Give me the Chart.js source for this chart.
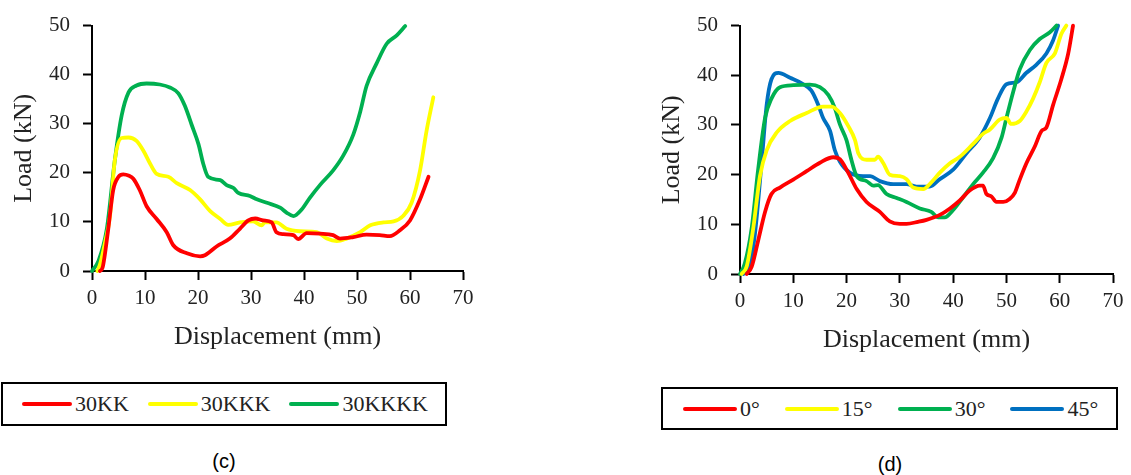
<!DOCTYPE html>
<html>
<head>
<meta charset="utf-8">
<script src="https://cdn.jsdelivr.net/npm/chart.js@4.4.1/dist/chart.umd.min.js"></script>
<style>
  html, body { margin: 0; padding: 0; background: #fff; }
  body { width: 1131px; height: 475px; position: relative; overflow: hidden; }
  .plot { position: absolute; top: 0; height: 360px; }
  .legend {
    position: absolute; box-sizing: border-box; border: 2px solid #000;
    display: flex; align-items: center;
    font-family: "Liberation Serif", "Times New Roman", serif; font-size: 22px; color: #222;
  }
  .legend .item { display: flex; align-items: center; }
  .legend .swatch { height: 4px; border-radius: 2px; margin-right: 3px; }
  .caption {
    position: absolute; font-family: "Liberation Sans", Arial, sans-serif; font-size: 20px;
    color: #000; transform: translate(-50%, -50%);
  }
</style>
</head>
<body>
<div class="plot" style="left:0;width:480px"><canvas id="chartC"></canvas></div>
<div class="plot" style="left:645px;width:486px"><canvas id="chartD"></canvas></div>
<div id="legendC" class="legend" style="left:1px;top:382px;width:446px;height:44px;padding-left:19px"></div>
<div id="legendD" class="legend" style="left:661px;top:387px;width:457px;height:43px;padding-left:20px"></div>
<div class="caption" style="left:224px;top:461px">(c)</div>
<div class="caption" style="left:890px;top:464px">(d)</div>

<script>
// tick values shared by both panels
const xTicks = [0, 10, 20, 30, 40, 50, 60, 70];
const yTicks = [0, 10, 20, 30, 40, 50];

// panel (c): [displacement mm, load kN]
const labelsC = ['30KK', '30KKK', '30KKKK'];
const load30KK = [
  [1.5, 0], [2, 0.7], [3, 8], [4, 16.5], [5, 19.2], [5.9, 19.7], [7, 19.4], [7.8, 18.8], [9, 16.5],
  [10.3, 13.2], [12.2, 10.6], [14.1, 7.9], [15.3, 5.3], [17.9, 3.6], [20.4, 3.0], [21.3, 3.2],
  [23.5, 5], [26, 6.6], [27.9, 8.6], [29.5, 10.3], [30.8, 10.7], [32.3, 10.3], [33.9, 9.9],
  [34.8, 7.9], [36.1, 7.5], [38, 7.3], [38.9, 6.5], [40.5, 7.7], [43, 7.6], [45.5, 7.3],
  [46.8, 6.6], [49.3, 6.9], [51.8, 7.4], [54.3, 7.3], [56.2, 7.1], [58.1, 8.3], [60, 10.3],
  [61.9, 14.6], [63.5, 19.2]
];
const load30KKK = [
  [1, 0], [1.5, 1.3], [2.5, 6], [3.4, 11.2], [4.3, 22.5], [5.6, 27.1], [6.9, 27.2], [8.4, 26.5],
  [9.7, 24.5], [11, 21.8], [12.2, 19.8], [14.4, 19.2], [16, 17.9], [18.5, 16.5], [20.4, 14.6],
  [22.3, 12.2], [24.2, 10.6], [25.7, 9.4], [27.9, 9.9], [30.4, 10.1], [32, 9.3], [32.6, 9.9],
  [34.8, 9.9], [36.7, 8.6], [39.2, 8.1], [42.4, 7.9], [44.3, 6.6], [46.2, 6.1], [48, 6.6],
  [50.6, 7.9], [52.5, 9.3], [55, 9.9], [56.9, 10.1], [58.7, 11.2], [60.3, 13.9], [61.9, 20.5],
  [63.1, 28.4], [64.4, 35.4]
];
const load30KKKK = [
  [0, 0], [1.2, 2], [2.8, 8.6], [4.3, 22.5], [5.6, 31.7], [6.9, 36.4], [8.4, 37.8], [10.3, 38.2],
  [12.8, 38], [14.7, 37.4], [16.3, 36.2], [17.5, 33.7], [18.8, 29.8], [20.1, 25.8], [21, 21.8],
  [21.9, 19.2], [24.2, 18.5], [25.4, 17.5], [26.7, 16.9], [27.6, 15.9], [29.8, 15.3], [31.1, 14.6],
  [33, 13.9], [35.5, 12.9], [36.7, 11.9], [38, 11.2], [39.6, 12.6], [41.1, 14.9], [43, 17.5],
  [45.5, 20.5], [47.4, 23.5], [49.3, 27.8], [50.6, 32.4], [51.8, 37.7], [53.7, 42.3], [55.6, 46.3],
  [57.5, 48], [59.1, 49.9]
];

// panel (d): [displacement mm, load kN]
const labelsD = ['0°', '15°', '30°', '45°'];
const load0 = [
  [1.25, 0], [2.2, 1.5], [3.4, 6.7], [4.7, 12.5], [5.9, 16.1], [7.5, 17.4], [10, 19], [12.5, 20.7],
  [15, 22.4], [17.5, 23.5], [18.75, 23.1], [20.3, 20.4], [21.9, 17.1], [23.75, 14.5], [26.25, 12.5],
  [28.1, 10.6], [30, 10.1], [31.25, 10.1], [33.4, 10.5], [35, 10.9], [37.5, 11.9], [39.4, 13.2],
  [41.25, 14.8], [43.1, 16.8], [45, 17.8], [45.6, 17.8], [46.25, 16.1], [47.2, 15.6], [48.1, 14.5],
  [49.4, 14.5], [50.6, 15.1], [51.6, 16.4], [52.5, 19], [53.75, 22.3], [55.3, 25.6], [56.6, 28.8],
  [57.5, 29.5], [58.75, 34], [60.3, 39.2], [61.6, 44.4], [62.5, 50]
];
const load15 = [
  [0.3, 0], [1.25, 1.5], [2.5, 9.3], [3.75, 19.7], [5, 24.9], [6.9, 28.5], [9.4, 30.8], [12.5, 32.4],
  [15.6, 33.7], [17.2, 33.7], [18.75, 32.4], [20.3, 29.8], [21.6, 26.9], [22.2, 24.3], [23.75, 23],
  [25.3, 23], [25.9, 23.6], [26.9, 22.3], [28.1, 20], [30, 19.7], [31.25, 19.1], [32.5, 17.4],
  [34.4, 17.1], [35.6, 18.1], [37.5, 20.4], [39.4, 22.3], [41.25, 23.6], [43.75, 26.2], [45.6, 28.2],
  [46.9, 29.1], [48.75, 31.1], [50, 31.4], [50.9, 30.2], [52.5, 30.8], [53.75, 32.7], [55, 35.3],
  [56.25, 38.6], [57.5, 42.5], [59.1, 44.4], [60.3, 48.3], [61.25, 50]
];
const load30 = [
  [0, 0], [0.9, 2.1], [2.2, 9.3], [3.4, 21], [4.7, 31.4], [5.9, 35.3], [7.5, 37.6], [10, 38],
  [13.1, 38.1], [15, 37.6], [16.6, 36], [17.8, 33.4], [18.75, 30.1], [20, 26.9], [20.9, 23],
  [21.9, 19.7], [23.75, 18.7], [25, 17.8], [25.9, 17.9], [27.5, 16.1], [29.4, 15.3], [31.25, 14.5],
  [33.75, 13.2], [35.9, 12.5], [37.2, 11.4], [38.4, 11.4], [40, 12.9], [41.9, 15.5], [43.75, 18.1],
  [45.6, 20.4], [47.5, 23.3], [49.1, 27.5], [50, 31.4], [51.25, 36.6], [52.5, 41.2], [54.4, 45.1],
  [56.25, 47.3], [58.1, 48.6], [59.4, 50]
];
const load45 = [
  [0.6, 0], [1.6, 0.8], [2.8, 8], [4.1, 23], [5, 34], [5.9, 39.2], [7.2, 40.5], [9.4, 39.5],
  [11.9, 38.2], [13.4, 36.9], [14.7, 34], [15.6, 31.4], [16.9, 28.8], [17.8, 24.9], [18.75, 22.6],
  [20.6, 20.4], [23.1, 19.7], [24.4, 19.7], [26.25, 18.7], [28.75, 18.1], [31.25, 18.1], [33.1, 17.6],
  [35.6, 17.6], [37.5, 19.1], [40, 21], [42.5, 24.3], [45, 27.5], [46.9, 31.4], [48.4, 35.3],
  [50, 38.2], [51.9, 38.6], [53.75, 40.5], [55.6, 42.1], [57.5, 44.4], [58.75, 47], [59.7, 50]
];

const RED = '#FF0000', YELLOW = '#FFFF00', GREEN = '#00B050', BLUE = '#0070C0';

function toPoints(pairs) {
  return pairs.map(p => ({ x: p[0], y: p[1] }));
}

function makeDataset(label, pairs, color) {
  return {
    label: label,
    data: toPoints(pairs),
    borderColor: color,
    backgroundColor: color,
    borderWidth: 3.8,
    pointRadius: 0,
    cubicInterpolationMode: 'monotone',
    borderCapStyle: 'round',
    borderJoinStyle: 'round',
    clip: 4
  };
}

const serif = "'Liberation Serif', 'Times New Roman', serif";

// build one panel; yWidth/xHeight pin the plot area to the reference
function buildChart(canvasId, datasets, geo) {
  const axisCommon = {
    type: 'linear',
    border: { display: true, color: '#000', width: 2 },
    grid: { drawOnChartArea: false, drawTicks: true, tickLength: 9, tickWidth: 2, tickColor: '#000' }
  };
  return new Chart(document.getElementById(canvasId), {
    type: 'line',
    data: { datasets: datasets },
    options: {
      responsive: true,
      maintainAspectRatio: false,
      animation: false,
      events: [],
      layout: { padding: { left: 0, top: 18, right: geo.right, bottom: 0 } },
      plugins: { legend: { display: false }, tooltip: { enabled: false } },
      scales: {
        x: Object.assign({}, axisCommon, {
          min: 0, max: 70,
          afterBuildTicks: s => { s.ticks = xTicks.map(v => ({ value: v })); },
          ticks: { padding: 6, color: '#222', font: { family: serif, size: 21 } },
          title: { display: true, text: 'Displacement (mm)', color: '#222',
                   font: { family: serif, size: 26 }, padding: { top: 0, bottom: geo.xTitlePad } },
          afterFit: s => { s.height = geo.xHeight; }
        }),
        y: Object.assign({}, axisCommon, {
          min: 0, max: 50,
          afterBuildTicks: s => { s.ticks = yTicks.map(v => ({ value: v })); },
          ticks: { padding: 13, color: '#222', font: { family: serif, size: 21 } },
          title: { display: true, text: 'Load (kN)', color: '#222',
                   font: { family: serif, size: 26 }, padding: { top: geo.yTitlePad, bottom: 0 } },
          afterFit: s => { s.width = geo.yWidth; }
        })
      }
    }
  });
}

function buildLegend(el, labels, colors, swatchWidth, gap) {
  labels.forEach((lab, i) => {
    const item = document.createElement('div');
    item.className = 'item';
    if (i > 0) item.style.marginLeft = gap + 'px';
    const sw = document.createElement('span');
    sw.className = 'swatch';
    sw.style.width = swatchWidth + 'px';
    sw.style.background = colors[i];
    const tx = document.createElement('span');
    tx.textContent = lab;
    item.appendChild(sw);
    item.appendChild(tx);
    el.appendChild(item);
  });
}

const colorsC = [RED, YELLOW, GREEN];
const seriesC = [load30KK, load30KKK, load30KKKK];
buildChart('chartC', labelsC.map((l, i) => makeDataset(l, seriesC[i], colorsC[i])),
  { right: 17, xHeight: 89, yWidth: 92, xTitlePad: 7, yTitlePad: 9 });

const colorsD = [RED, YELLOW, GREEN, BLUE];
const seriesD = [load0, load15, load30, load45];
buildChart('chartD', labelsD.map((l, i) => makeDataset(l, seriesD[i], colorsD[i])),
  { right: 18, xHeight: 86, yWidth: 95, xTitlePad: 4, yTitlePad: 12 });

buildLegend(document.getElementById('legendC'), labelsC, colorsC, 50, 19);
buildLegend(document.getElementById('legendD'), labelsD, colorsD, 54, 25);
</script>
</body>
</html>
